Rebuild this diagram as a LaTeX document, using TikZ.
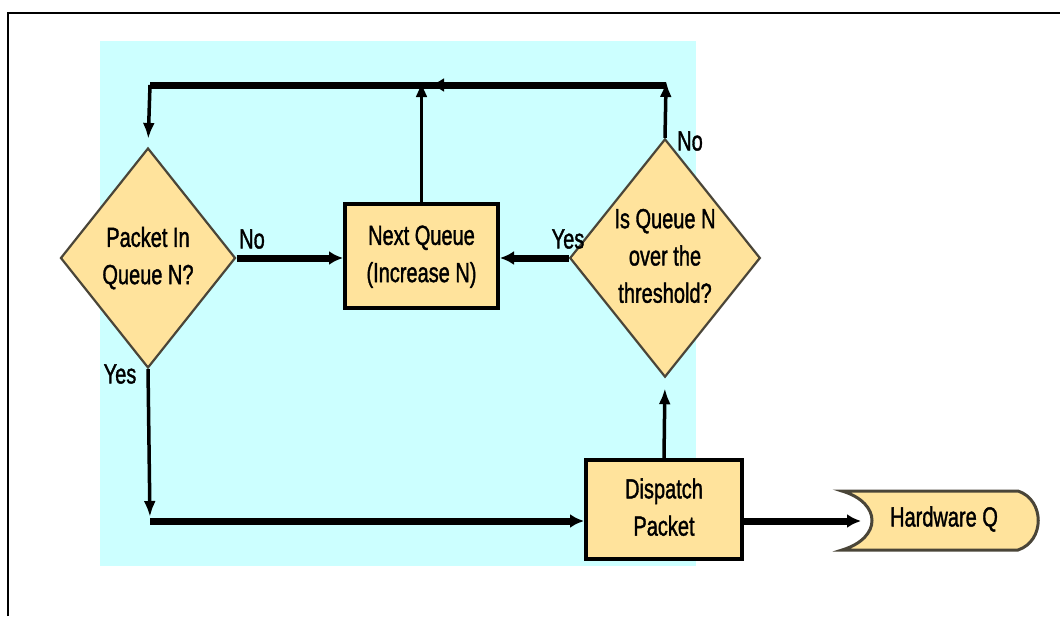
\documentclass[tikz,border=0pt]{standalone}
\usepackage{fontspec}
\setmainfont{Liberation Sans}[BoldFont=Liberation Sans, BoldFeatures={FakeBold=1.6}]
\usetikzlibrary{arrows.meta,shapes.geometric,calc}
\definecolor{bgcyan}{HTML}{CCFFFF}
\definecolor{boxfill}{HTML}{FFE39C}
\definecolor{dline}{HTML}{4A4538}
\newcommand\stretchtxt[1]{\scalebox{1}[1.38]{\begin{tabular}{@{}c@{}}#1\end{tabular}}}
\begin{document}
\begin{tikzpicture}[x=1pt,y=-1pt,
  txt/.style={font=\fontsize{20}{27}\selectfont\bfseries, inner sep=0pt},
  decision/.style={diamond, aspect=0.8, draw=dline, line width=2.2pt, fill=boxfill,
    inner sep=0pt, font=\fontsize{20}{27}\selectfont\bfseries},
  process/.style={rectangle, draw=black, line width=4pt, fill=boxfill,
    inner sep=0pt, font=\fontsize{20}{27}\selectfont\bfseries},
  tipthin/.style={-{Latex[length=16pt,width=12pt]}},
  tipthick/.style={-{Latex[length=14pt,width=14pt]}},
  thinline/.style={line width=3.5pt},
  thickline/.style={line width=7pt}]
\useasboundingbox (0,0) rectangle (1060,616);
% frame
\draw[line width=1.5pt] (8,616) -- (8,13) -- (1060,13);
% background
\fill[bgcyan] (100,41) rectangle (696,566);

% nodes
\node[decision, minimum width=175pt, minimum height=220pt] (dq1) at (148,258)
  {\stretchtxt{Packet In\\Queue N?}};
\node[process, minimum width=153pt, minimum height=104pt] (nq) at (421.5,256)
  {\stretchtxt{Next Queue\\(Increase N)}};
\node[decision, minimum width=170pt, minimum height=222pt] (dq2) at (665,258)
  {\stretchtxt{Is Queue N\\over the\\threshold?}};
\node[process, minimum width=156pt, minimum height=99pt] (disp) at (664,509.5)
  {\stretchtxt{Dispatch\\Packet}};

% Hardware Q shape
\filldraw[fill=boxfill, draw=dline, line width=3pt]
  (842,491) -- (1018,491) .. controls (1045,500) and (1045,541) .. (1018,550)
  -- (842,550) .. controls (882,538) and (882,503) .. (842,491) -- cycle;
\node[txt] (hw) at (944,519) {\stretchtxt{Hardware Q}};

% coordinates
\coordinate (tl) at (150,85);
\coordinate (tr) at (666,85);
\coordinate (tmid) at (430,85);
\coordinate (bl) at (150,521);
\coordinate (hwin) at (861,521);

% connectors
\draw[thickline, line cap=square] (tr) -- (tl);
\draw[thickline, tipthick] (tr) -- (tmid);
\draw[thinline, tipthin, shorten >=8pt] (tl) -- (dq1.north);
\draw[thinline, tipthin, shorten >=-4pt] (nq.north) -- (nq.north |- tr);
\draw[thinline, tipthin, shorten >=-4pt] (dq2.north) -- (tr);
\draw[thickline, tipthick] (dq1.east) -- (nq.west |- dq1.east);
\draw[thickline, tipthick] (dq2.west) -- (nq.east |- dq2.west);
\draw[thinline, tipthin, shorten >=4pt] (dq1.south) -- (bl);
\draw[thickline, tipthick, line cap=square] (bl) -- (disp.west |- bl);
\draw[thinline, tipthin, shorten >=10pt] (disp.north) -- (dq2.south);
\draw[thickline, tipthick] (disp.east |- hwin) -- (hwin);

% labels
\node[txt] (lno1) at (252,241) {\stretchtxt{No}};
\node[txt] (lyes1) at (120,376) {\stretchtxt{Yes}};
\node[txt] (lyes2) at (568,241) {\stretchtxt{Yes}};
\node[txt] (lno2) at (690,143) {\stretchtxt{No}};
\end{tikzpicture}
\end{document}
